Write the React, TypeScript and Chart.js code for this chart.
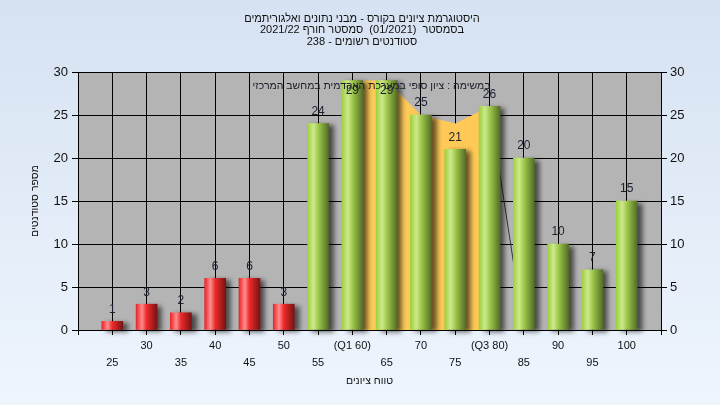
import React, { useEffect, useRef } from 'react';
import { Chart, registerables } from 'chart.js';
Chart.register(...registerables);

const FONT = '"Liberation Sans", "DejaVu Sans", Arial, sans-serif';

const titleLines = [
  'היסטוגרמת ציונים בקורס - מבני נתונים ואלגוריתמים',
  'בסמסטר  (01/2021)  סמסטר חורף 2021/22',
  'סטודנטים רשומים - 238',
];
const subtitle = 'במשימה : ציון סופי במערכת האקדמית במחשב המרכזי';
const xTitle = 'טווח ציונים';
const yTitle = 'מספר סטודנטים';

const grades = [25, 30, 35, 40, 45, 50, 55, 60, 65, 70, 75, 80, 85, 90, 95, 100];
const counts = [1, 3, 2, 6, 6, 3, 24, 29, 29, 25, 21, 26, 20, 10, 7, 15];
const tickLabels = ['25', '30', '35', '40', '45', '50', '55', '(Q1 60)', '65', '70', '75', '(Q3 80)', '85', '90', '95', '100'];
const failLimit = 55;

const iqrGrades = [60, 65, 70, 75, 80];
const iqrValues = [29, 29, 25, 24, 26];

const edgeGrades = [80, 85];
const edgeValues = [26, 0];

const yTicks = [0, 5, 10, 15, 20, 25, 30];

const BAR_W = 21;

function barFill(c: any) {
  const chart = c.chart;
  const i = c.dataIndex;
  const g = grades[i] ?? 100;
  const red = g < failLimit;
  if (!chart.chartArea || c.type !== 'data') return red ? '#e02020' : '#9ac43c';
  const cx = chart.scales.x.getPixelForValue(g);
  const grad = chart.ctx.createLinearGradient(cx - BAR_W / 2, 0, cx + BAR_W / 2, 0);
  if (red) {
    grad.addColorStop(0, '#e8262a');
    grad.addColorStop(0.28, '#ff8c8c');
    grad.addColorStop(0.5, '#ee2a2a');
    grad.addColorStop(1, '#7a1212');
  } else {
    grad.addColorStop(0, '#9dd03c');
    grad.addColorStop(0.28, '#cde98c');
    grad.addColorStop(0.55, '#98c245');
    grad.addColorStop(1, '#536d28');
  }
  return grad;
}

const decor = {
  id: 'decor',
  beforeDraw(chart: any) {
    const { ctx, chartArea: a } = chart;
    ctx.save();
    ctx.fillStyle = '#b4b4b4';
    ctx.fillRect(a.left, a.top, a.right - a.left, a.bottom - a.top);
    ctx.restore();
  },
  beforeDatasetDraw(chart: any, args: any) {
    if (args.meta.type === 'bar') {
      const ctx = chart.ctx;
      ctx.save();
      ctx.shadowColor = 'rgba(0,0,0,0.6)';
      ctx.shadowBlur = 5;
      ctx.shadowOffsetX = 5;
      ctx.shadowOffsetY = 2;
    }
  },
  afterDatasetDraw(chart: any, args: any) {
    if (args.meta.type === 'bar') chart.ctx.restore();
  },
  afterDatasetsDraw(chart: any) {
    const ctx = chart.ctx;
    const a = chart.chartArea;
    ctx.save();
    const meta = chart.getDatasetMeta(2);
    ctx.font = `12px ${FONT}`;
    ctx.fillStyle = '#1a2030';
    ctx.textAlign = 'center';
    ctx.textBaseline = 'middle';
    meta.data.forEach((el: any, i: number) => {
      let y = el.y - 12;
      if (y < a.top + 8) y = el.y + 10;
      ctx.fillText(String(counts[i]), el.x, y);
    });
    ctx.direction = 'rtl';
    ctx.fillStyle = '#1a1a2a';
    ctx.font = `10.5px ${FONT}`;
    ctx.fillText(subtitle, (a.left + a.right) / 2 + 2, a.top + 14);
    ctx.restore();
  },
  afterDraw(chart: any) {
    const ctx = chart.ctx;
    const a = chart.chartArea;
    ctx.save();
    ctx.direction = 'rtl';
    ctx.textAlign = 'center';
    ctx.textBaseline = 'middle';
    ctx.fillStyle = '#111';
    ctx.font = `11px ${FONT}`;
    titleLines.forEach((t, i) => ctx.fillText(t, 362, 18.5 + i * 11.5));
    ctx.font = `10.5px ${FONT}`;
    ctx.fillText(xTitle, (a.left + a.right) / 2, 381);
    ctx.translate(35, (a.top + a.bottom) / 2);
    ctx.rotate(-Math.PI / 2);
    ctx.fillText(yTitle, 0, 0);
    ctx.restore();
  },
};

export default function App() {
  const ref = useRef<HTMLCanvasElement>(null);
  useEffect(() => {
    if (!ref.current) return;
    const tickFont = { family: FONT, size: 13 };
    const chart = new Chart(ref.current, {
      type: 'bar',
      data: {
        datasets: [
          {
            type: 'line',
            data: iqrGrades.map((g, i) => ({ x: g, y: iqrValues[i] })),
            backgroundColor: '#fec957',
            borderWidth: 0,
            pointRadius: 0,
            fill: 'origin',
            order: 3,
          } as any,
          {
            type: 'line',
            data: edgeGrades.map((g, i) => ({ x: g, y: edgeValues[i] })),
            borderColor: '#333',
            borderWidth: 1,
            pointRadius: 0,
            fill: false,
            order: 2,
          } as any,
          {
            type: 'bar',
            data: grades.map((g, i) => ({ x: g, y: counts[i] })),
            backgroundColor: barFill,
            borderWidth: 0,
            barThickness: BAR_W,
            clip: false,
            order: 1,
          } as any,
        ],
      },
      options: {
        responsive: false,
        animation: false,
        events: [],
        layout: { padding: { top: 72, left: 0, right: 0, bottom: 0 } },
        plugins: { legend: { display: false }, tooltip: { enabled: false }, title: { display: false } },
        scales: {
          x: {
            type: 'linear',
            min: 20,
            max: 105,
            offset: false,
            position: 'bottom',
            afterFit: (s: any) => { s.height = 75; },
            ticks: {
              stepSize: 5,
              autoSkip: false,
              maxRotation: 0,
              padding: 2,
              color: '#111',
              font: { family: FONT, size: 11, lineHeight: 17 / 11 },
              callback: (v: any) => {
                const i = grades.indexOf(Number(v));
                if (i < 0) return '';
                return i % 2 === 0 ? ['', tickLabels[i]] : [tickLabels[i]];
              },
            },
            grid: { color: '#000', lineWidth: 1, tickLength: 5, drawTicks: true, offset: false },
            border: { color: '#000' },
          },
          y: {
            position: 'left',
            min: 0,
            max: 30,
            afterFit: (s: any) => { s.width = 78; },
            afterBuildTicks: (s: any) => { s.ticks = yTicks.map((v) => ({ value: v })); },
            ticks: { padding: 4, color: '#111', font: tickFont },
            grid: { color: '#000', lineWidth: 1, tickLength: 6 },
            border: { color: '#000' },
          },
          y2: {
            position: 'right',
            min: 0,
            max: 30,
            afterFit: (s: any) => { s.width = 59; },
            afterBuildTicks: (s: any) => { s.ticks = yTicks.map((v) => ({ value: v })); },
            ticks: { padding: 3, color: '#111', font: tickFont },
            grid: { color: '#000', lineWidth: 1, tickLength: 6, drawOnChartArea: false },
            border: { color: '#000' },
          },
        },
      } as any,
      plugins: [decor],
    });
    return () => chart.destroy();
  }, []);
  return (
    <div
      style={{
        position: 'fixed',
        left: 0,
        top: 0,
        width: 720,
        height: 405,
        background: 'linear-gradient(180deg, #d6e2f2 0%, #eef5fd 100%)',
      }}
    >
      <canvas ref={ref} width={720} height={405} style={{ display: 'block', width: 720, height: 405 }} />
    </div>
  );
}
